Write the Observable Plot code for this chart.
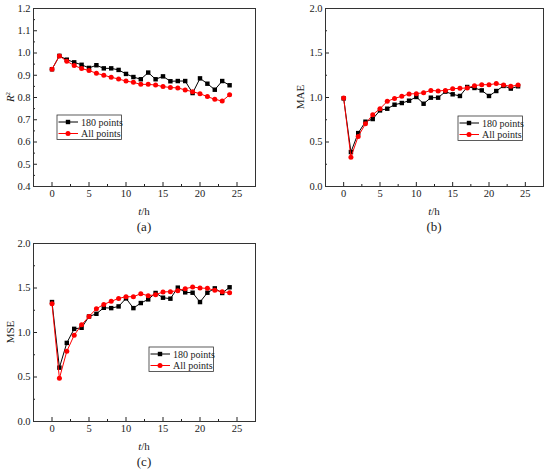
<!DOCTYPE html>
<html><head><meta charset="utf-8">
<script src="https://cdn.jsdelivr.net/npm/d3@7"></script>
<script src="https://cdn.jsdelivr.net/npm/@observablehq/plot@0.6"></script>
<style>
body{margin:0;background:#fff;}
#wrap{position:relative;width:550px;height:472px;background:#fff;font-family:"Liberation Serif","Times New Roman",serif;color:#222;}
#wrap svg, #wrap svg text{font-family:"Liberation Serif","Times New Roman",serif !important;}
.panel{position:absolute;}
.cap{position:absolute;font-size:13px;transform:translate(-50%,-50%);white-space:nowrap;}
</style></head><body><div id="wrap"></div>
<script>
const hours = [0,1,2,3,4,5,6,7,8,9,10,11,12,13,14,15,16,17,18,19,20,21,22,23,24];
const r2_180 = [0.927,0.987,0.970,0.958,0.947,0.933,0.945,0.931,0.931,0.924,0.906,0.892,0.882,0.912,0.882,0.895,0.873,0.874,0.874,0.820,0.886,0.862,0.835,0.874,0.855];
const r2_all = [0.927,0.987,0.963,0.944,0.930,0.921,0.909,0.900,0.891,0.883,0.874,0.868,0.859,0.859,0.856,0.849,0.845,0.843,0.834,0.826,0.817,0.804,0.792,0.784,0.812];
const mae_180 = [0.99,0.387,0.600,0.728,0.758,0.855,0.874,0.919,0.938,0.964,1.006,0.930,0.998,0.998,1.066,1.036,1.017,1.118,1.107,1.080,1.017,1.073,1.130,1.100,1.126];
const mae_all = [0.995,0.330,0.563,0.705,0.807,0.874,0.957,0.990,1.013,1.040,1.043,1.054,1.080,1.073,1.080,1.099,1.103,1.107,1.133,1.144,1.144,1.156,1.140,1.126,1.140];
const mse_180 = [1.342,0.605,0.883,1.041,1.053,1.180,1.210,1.278,1.274,1.293,1.383,1.274,1.331,1.372,1.444,1.391,1.380,1.504,1.451,1.447,1.342,1.447,1.496,1.444,1.508];
const mse_all = [1.323,0.485,0.789,0.970,1.086,1.180,1.267,1.316,1.350,1.383,1.402,1.402,1.436,1.413,1.425,1.455,1.459,1.470,1.492,1.511,1.500,1.496,1.474,1.459,1.447];

const xTicks = [0,5,10,15,20,25];
const xMinor = [2.5,7.5,12.5,17.5,22.5];
const r2Ticks = [0.4,0.5,0.6,0.7,0.8,0.9,1.0,1.1,1.2];
const r2Minor = [0.45,0.55,0.65,0.75,0.85,0.95,1.05,1.15];
const errTicks = [0,0.5,1.0,1.5,2.0];
const errMinor = [0.25,0.75,1.25,1.75];
const seriesNames = ["180 points","All points"];
const seriesColors = ["black","red"];
const seriesSymbols = ["square","circle"];
const panelLabels = ["(a)","(b)","(c)"];

const wrap = document.getElementById("wrap");
const FONT = '"Liberation Serif","Times New Roman",serif';

function addLegend(svg, x0, y0) {
  const g = d3.select(svg).append("g").attr("transform", `translate(${x0},${y0})`);
  g.append("rect").attr("width", 64.5).attr("height", 24.5).attr("fill", "white").attr("stroke", "#333").attr("stroke-width", 0.8);
  seriesNames.forEach((name, i) => {
    const y = 7 + i * 11.5;
    g.append("line").attr("x1", 1.5).attr("x2", 21).attr("y1", y).attr("y2", y).attr("stroke", seriesColors[i]).attr("stroke-width", 1);
    if (seriesSymbols[i] === "square") {
      g.append("rect").attr("x", 11 - 2.2).attr("y", y - 2.2).attr("width", 4.4).attr("height", 4.4).attr("fill", seriesColors[i]);
    } else {
      g.append("circle").attr("cx", 11).attr("cy", y).attr("r", 2.5).attr("fill", seriesColors[i]);
    }
    g.append("text").attr("x", 24).attr("y", y).attr("dy", "0.35em").attr("text-anchor", "start").attr("font-size", 10).attr("font-family", FONT).attr("fill", "#222").text(name);
  });
}

function makePanel(o) {
  const data = hours.map((h, i) => ({h, a: o.y180[i], b: o.yAll[i]}));
  const svg = Plot.plot({
    width: 275, height: 220,
    marginLeft: o.ml, marginRight: o.mr, marginTop: 8, marginBottom: 34,
    x: {domain: [-2.5, 27.5]},
    y: {domain: o.domain},
    style: {fontFamily: FONT, fontSize: "10.5px", color: "#222", background: "white", overflow: "visible"},
    marks: [
      Plot.axisX({ticks: xTicks, tickSize: 0, tickPadding: 3, label: null, tickFormat: d => d, fontFamily: FONT, fontSize: 10.5}),
      Plot.axisX({ticks: xTicks, tickSize: 4, dy: -4, text: null, label: null}),
      Plot.axisX({ticks: xMinor, tickSize: 2, dy: -2, text: null, label: null}),
      Plot.axisY({ticks: o.ticks, tickSize: 0, tickPadding: 3, label: null, tickFormat: d3.format(".1f"), fontFamily: FONT, fontSize: 10.5}),
      Plot.axisY({ticks: o.ticks, tickSize: 4, dx: 4, text: null, label: null}),
      Plot.axisY({ticks: o.minor, tickSize: 2, dx: 2, text: null, label: null}),
      Plot.frame({stroke: "#333"}),
      Plot.line(data, {x: "h", y: "a", stroke: seriesColors[0], strokeWidth: 1}),
      Plot.dot(data, {x: "h", y: "a", symbol: seriesSymbols[0], r: 2.5, fill: seriesColors[0], stroke: "none"}),
      Plot.line(data, {x: "h", y: "b", stroke: seriesColors[1], strokeWidth: 1}),
      Plot.dot(data, {x: "h", y: "b", symbol: seriesSymbols[1], r: 2.5, fill: seriesColors[1], stroke: "none"})
    ]
  });
  const s = d3.select(svg);
  s.attr("font-family", FONT);
  const cx = o.ml + (275 - o.ml - o.mr) / 2;
  const tx = s.append("text").attr("x", cx).attr("y", 215).attr("text-anchor", "middle").attr("font-size", 11).attr("font-family", FONT).attr("fill", "#222");
  tx.append("tspan").attr("font-style", "italic").text("t");
  tx.append("tspan").text("/h");
  const ty = s.append("text").attr("transform", `translate(${o.yl},97) rotate(-90)`).attr("text-anchor", "middle").attr("dy", "0.35em").attr("font-size", 11).attr("font-family", FONT).attr("fill", "#222");
  o.ylabel(ty);
  addLegend(svg, o.lx, o.ly);
  const div = document.createElement("div");
  div.className = "panel";
  div.style.left = o.left + "px";
  div.style.top = o.top + "px";
  div.appendChild(svg);
  wrap.appendChild(div);
  const cap = document.createElement("div");
  cap.className = "cap";
  cap.style.left = (o.left + cx) + "px";
  cap.style.top = (o.top + 227) + "px";
  cap.textContent = o.caption;
  wrap.appendChild(cap);
}

makePanel({y180: r2_180, yAll: r2_all, domain: [0.4, 1.2], ticks: r2Ticks, minor: r2Minor,
  ml: 33, mr: 20, left: 0, top: 0, yl: 10, lx: 57, ly: 115, caption: panelLabels[0],
  ylabel: t => { t.append("tspan").attr("font-style", "italic").text("R"); t.append("tspan").attr("font-size", 7).attr("baseline-shift", "super").text("2"); }});
makePanel({y180: mae_180, yAll: mae_all, domain: [0, 2], ticks: errTicks, minor: errMinor,
  ml: 50, mr: 7, left: 275, top: 0, yl: 25, lx: 183, ly: 116, caption: panelLabels[1],
  ylabel: t => t.text("MAE")});
makePanel({y180: mse_180, yAll: mse_all, domain: [0, 2], ticks: errTicks, minor: errMinor,
  ml: 33, mr: 20, left: 0, top: 235, yl: 10, lx: 149, ly: 112, caption: panelLabels[2],
  ylabel: t => t.text("MSE")});
</script></body></html>
